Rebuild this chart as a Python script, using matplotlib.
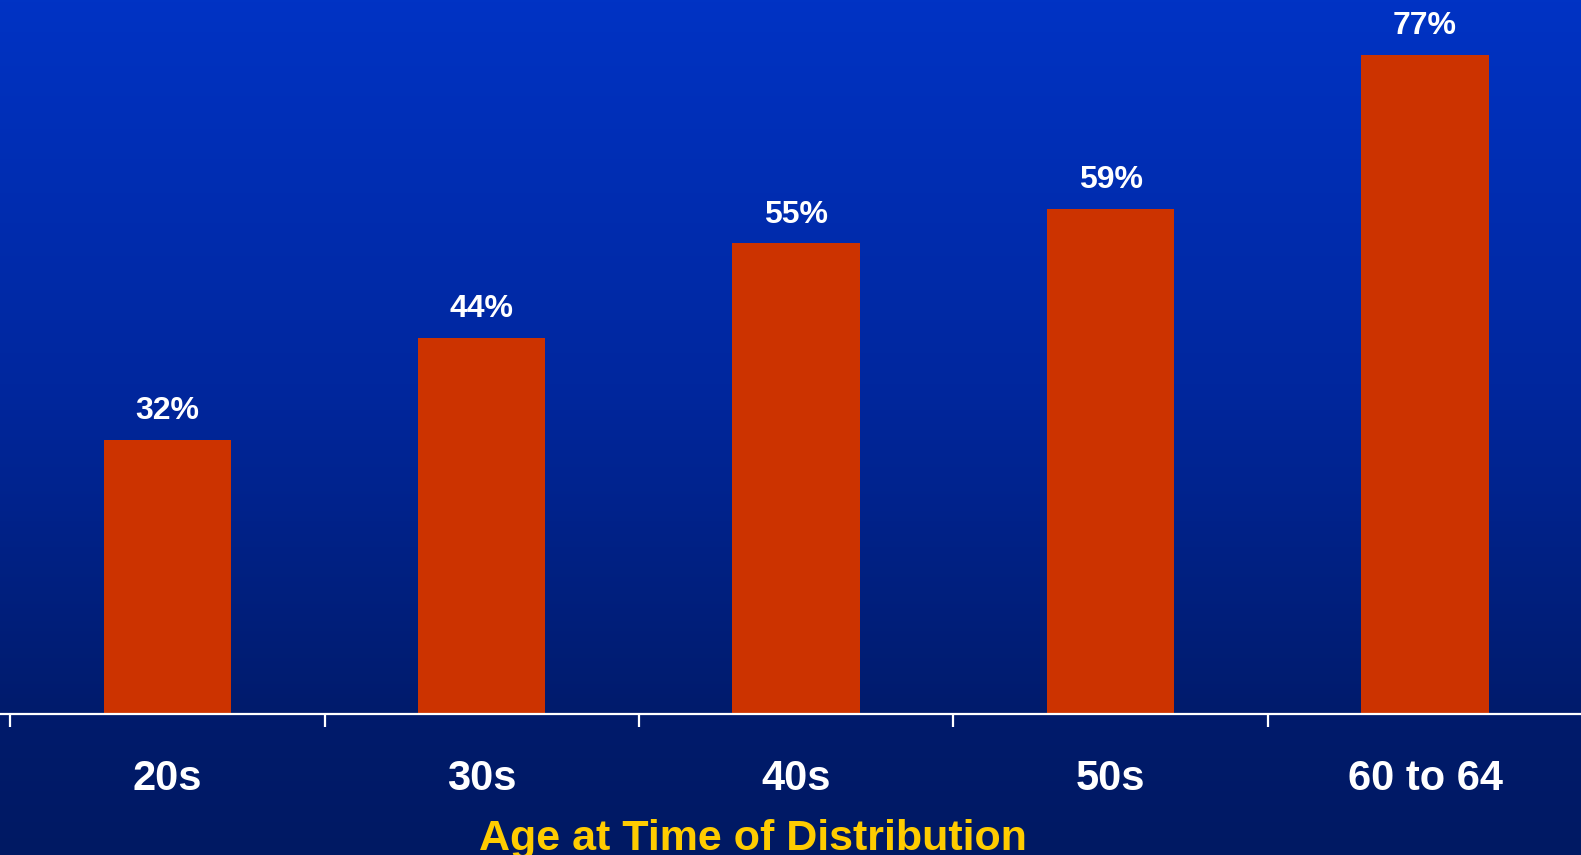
import numpy as np
import matplotlib
matplotlib.use("Agg")
import matplotlib.pyplot as plt
from matplotlib.colors import LinearSegmentedColormap

categories = ["20s", "30s", "40s", "50s", "60 to 64"]
values = [32, 44, 55, 59, 77]
xlabel = "Age at Time of Distribution"

plt.rcParams["font.family"] = ["Liberation Sans", "DejaVu Sans"]
plt.rcParams["font.weight"] = "bold"

fig = plt.figure(figsize=(15.81, 8.55), dpi=100)
ax = fig.add_axes([0, 0, 1, 1])

# vertical blue gradient background
grad = np.linspace(0, 1, 256).reshape(-1, 1)
cmap = LinearSegmentedColormap.from_list(
    "bg", [(0.0, "#0033c4"), (0.45, "#00279e"), (0.835, "#001b6c"), (1.0, "#001963")]
)
ax.imshow(grad, aspect="auto", cmap=cmap, extent=[0, 1, 0, 1],
          transform=ax.transAxes, zorder=0, origin="upper")

x = np.arange(len(categories))
ax.bar(x, values, width=0.405, color="#cc3300", zorder=2)

for xi, v in zip(x, values):
    ax.annotate(f"{v}%", (xi, v), xytext=(0, 15), textcoords="offset points",
                ha="center", va="baseline", color="white", fontsize=23,
                fontweight="bold", zorder=3)

ax.set_xlim(-0.532, 4.496)
ax.set_ylim(-16.48, 83.46)

for side in ["top", "left", "right"]:
    ax.spines[side].set_visible(False)
ax.spines["bottom"].set_position(("data", 0))
ax.spines["bottom"].set_color("white")
ax.spines["bottom"].set_linewidth(1.6)
ax.spines["bottom"].set_zorder(4)

ax.set_yticks([])
ax.set_xticks(x)
ax.set_xticklabels(categories, fontsize=30, fontweight="bold", color="white")
for lab in ax.get_xticklabels():
    lab.set_va("baseline")
ax.tick_params(axis="x", which="major", length=0, pad=54.7)
ax.set_xticks(np.arange(-0.5, len(categories) - 1), minor=True)
ax.tick_params(axis="x", which="minor", length=9.5, width=1.6,
               color="white", direction="out")

fig.text(0.476, 0.0058, xlabel, ha="center", va="baseline",
         color="#ffcc00", fontsize=31, fontweight="bold")

fig.savefig("out.png", dpi=100)
